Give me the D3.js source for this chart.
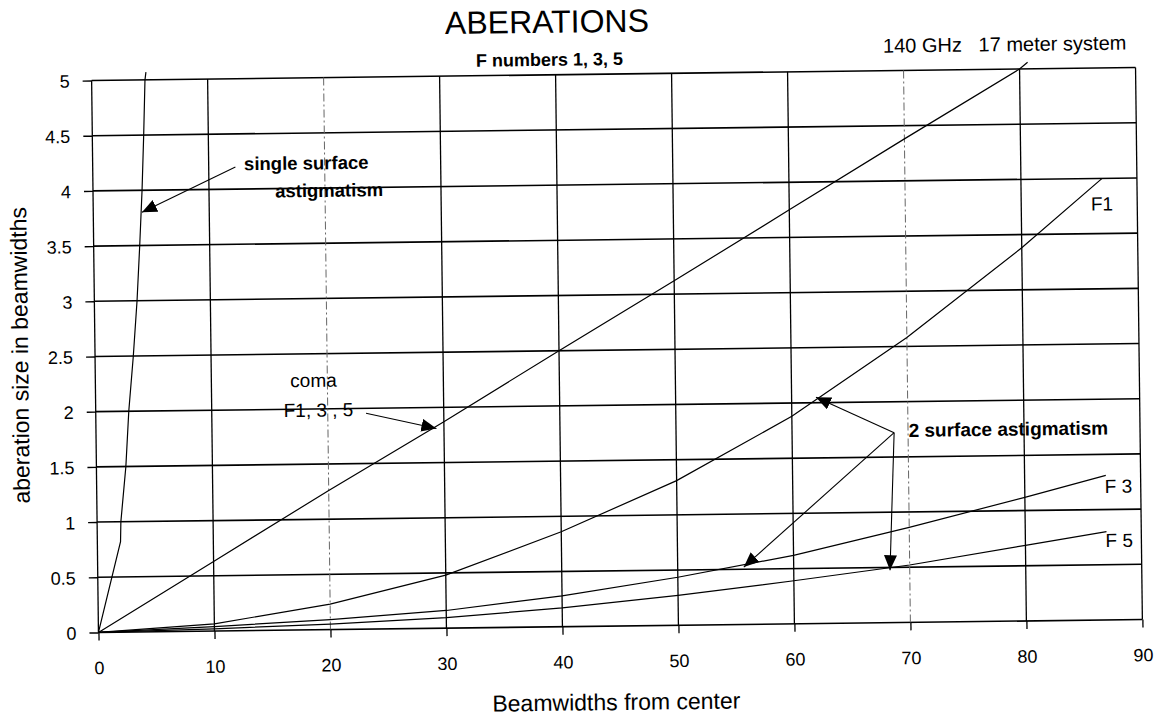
<!DOCTYPE html>
<html>
<head>
<meta charset="utf-8">
<script src="https://cdn.jsdelivr.net/npm/d3@7"></script>
<style>
  html, body { margin: 0; padding: 0; background: #fff; }
  svg { display: block; font-family: "Liberation Sans", Arial, sans-serif; }
</style>
</head>
<body>
<svg id="chart" width="1158" height="717"></svg>
<script>
// Axis ticks
const xTicks = [0, 10, 20, 30, 40, 50, 60, 70, 80, 90];
const xDashed = [20, 70];
const yTicks = [0, 0.5, 1, 1.5, 2, 2.5, 3, 3.5, 4, 4.5, 5];
const yTickLabels = ["0", "0.5", "1", "1.5", "2", "2.5", "3", "3.5", "4", "4.5", "5"];

// Aberration size (beamwidths) against beamwidths from center
const singleSurface = [[0, 0], [2, 0.82], [2.05, 1], [2.54, 1.5], [2.85, 2], [3.3, 2.5], [3.68, 3], [3.97, 3.5], [4.23, 4], [4.43, 4.5], [4.6, 5], [4.69, 5.07]];
const coma = [[0, 0], [10, 0.63], [20, 1.26], [30, 1.87], [40, 2.5], [50, 3.12], [60, 3.75], [70, 4.38], [80, 5.0], [80.7, 5.06]];
const astigF1 = [[0, 0], [10, 0.065], [20, 0.23], [30, 0.48], [40, 0.86], [50, 1.31], [60, 1.88], [70, 2.58], [80, 3.38], [87, 4.0]];
const astigF3 = [[0, 0], [10, 0.04], [20, 0.09], [30, 0.16], [40, 0.28], [50, 0.435], [60, 0.62], [70, 0.86], [80, 1.12], [87, 1.31]];
const astigF5 = [[0, 0], [10, 0.02], [20, 0.05], [30, 0.095], [40, 0.17], [50, 0.27], [60, 0.39], [70, 0.52], [80, 0.685], [87, 0.8]];

// Annotation arrows (data coordinates: [from, to])
const arrowSingle = [[12.3, 4.2], [4.2, 3.8]];
const arrowComa = [[23.3, 1.955], [29.35, 1.81]];
const twoSurfaceFrom = [68.8, 1.72];
const twoSurfaceTargets = [[62.1, 2.05], [55.7, 0.52], [68.3, 0.475]];

// Text labels placed in data coordinates
const notes = [
  { text: "single surface", at: [13.05, 4.17], size: 18.5, weight: "bold" },
  { text: "astigmatism", at: [15.7, 3.92], size: 18.5, weight: "bold" },
  { text: "coma", at: [16.8, 2.2], size: 19, weight: "normal" },
  { text: "F1, 3 , 5", at: [16.2, 1.93], size: 19, weight: "normal" },
  { text: "2 surface astigmatism", at: [70.05, 1.68], size: 19, weight: "bold" },
  { text: "F1", at: [86.0, 3.71], size: 19, weight: "normal" },
  { text: "F 3", at: [86.9, 1.15], size: 19, weight: "normal" },
  { text: "F 5", at: [86.9, 0.66], size: 19, weight: "normal" }
];

const svg = d3.select("#chart");
const plot = { left: 95, right: 1139, top: 74, bottom: 626 };

const x = d3.scaleLinear().domain([0, 90]).range([plot.left, plot.right]);
const y = d3.scaleLinear().domain([0, 5]).range([plot.bottom, plot.top]);

// whole sheet sits at a slight tilt
const g = svg.append("g").attr("transform", "rotate(-0.71, 617, 350)");

// arrowhead
svg.append("defs").append("marker")
  .attr("id", "head")
  .attr("markerUnits", "userSpaceOnUse")
  .attr("markerWidth", 16).attr("markerHeight", 14)
  .attr("refX", 15).attr("refY", 6.5)
  .attr("orient", "auto")
  .append("path")
  .attr("d", "M0,0 L15,6.5 L0,13 Z")
  .attr("fill", "#000");

// horizontal grid
g.append("g").selectAll("line").data(yTicks).join("line")
  .attr("x1", x(0)).attr("x2", x(90))
  .attr("y1", d => y(d)).attr("y2", d => y(d))
  .attr("stroke", "#000").attr("stroke-width", 1.6);

// vertical grid
g.append("g").selectAll("line").data(xTicks).join("line")
  .attr("x1", d => x(d)).attr("x2", d => x(d))
  .attr("y1", y(0)).attr("y2", y(5))
  .attr("stroke", d => xDashed.includes(d) ? "#666" : "#000")
  .attr("stroke-width", d => xDashed.includes(d) ? 1 : 1.3)
  .attr("stroke-dasharray", d => xDashed.includes(d) ? "8,3,2,3" : null);

// axes
const yAxis = g.append("g")
  .attr("transform", `translate(${plot.left},0)`)
  .call(d3.axisLeft(y).tickValues(yTicks).tickSize(9).tickPadding(13)
    .tickFormat((d, i) => yTickLabels[i]));
yAxis.select(".domain").remove();
yAxis.selectAll("line").attr("stroke", "#000").attr("stroke-width", 1.4);
yAxis.selectAll("text")
  .attr("font-size", 18).attr("font-family", "Liberation Sans, Arial, sans-serif")
  .attr("fill", "#000").attr("dy", "0.36em");

const xAxis = g.append("g")
  .attr("transform", `translate(0,${plot.bottom})`)
  .call(d3.axisBottom(x).tickValues(xTicks).tickSize(8).tickPadding(21)
    .tickFormat(d3.format("d")));
xAxis.select(".domain").remove();
xAxis.selectAll("line").attr("stroke", "#000").attr("stroke-width", 1.3);
xAxis.selectAll("text")
  .attr("font-size", 18).attr("font-family", "Liberation Sans, Arial, sans-serif")
  .attr("fill", "#000");

// curves
const line = d3.line().x(d => x(d[0])).y(d => y(d[1]));
g.append("g").selectAll("path")
  .data([singleSurface, coma, astigF1, astigF3, astigF5])
  .join("path")
  .attr("d", line)
  .attr("fill", "none")
  .attr("stroke", "#000")
  .attr("stroke-width", 1.2);

// arrows
const arrows = [arrowSingle, arrowComa].concat(twoSurfaceTargets.map(t => [twoSurfaceFrom, t]));
g.append("g").selectAll("line").data(arrows).join("line")
  .attr("x1", d => x(d[0][0])).attr("y1", d => y(d[0][1]))
  .attr("x2", d => x(d[1][0])).attr("y2", d => y(d[1][1]))
  .attr("stroke", "#000").attr("stroke-width", 1.1)
  .attr("marker-end", "url(#head)");

// notes
g.append("g").selectAll("text").data(notes).join("text")
  .attr("x", d => x(d.at[0])).attr("y", d => y(d.at[1]))
  .attr("font-size", d => d.size)
  .attr("font-weight", d => d.weight)
  .attr("fill", "#000")
  .text(d => d.text);

// titles
g.append("text")
  .attr("x", 551).attr("y", 32)
  .attr("text-anchor", "middle")
  .attr("font-size", 32)
  .text("ABERATIONS");

g.append("text")
  .attr("x", 479.5).attr("y", 65)
  .attr("font-size", 18).attr("font-weight", "bold")
  .text("F numbers 1, 3, 5");

g.append("text")
  .attr("x", 886.7).attr("y", 56)
  .attr("font-size", 20)
  .style("white-space", "pre")
  .text("140 GHz   17 meter system");

g.append("text")
  .attr("x", 612).attr("y", 710)
  .attr("text-anchor", "middle")
  .attr("font-size", 23)
  .text("Beamwidths from center");

g.append("text")
  .attr("transform", "translate(28,348) rotate(-90)")
  .attr("text-anchor", "middle")
  .attr("font-size", 23)
  .text("aberation size in beamwidths");
</script>
</body>
</html>
